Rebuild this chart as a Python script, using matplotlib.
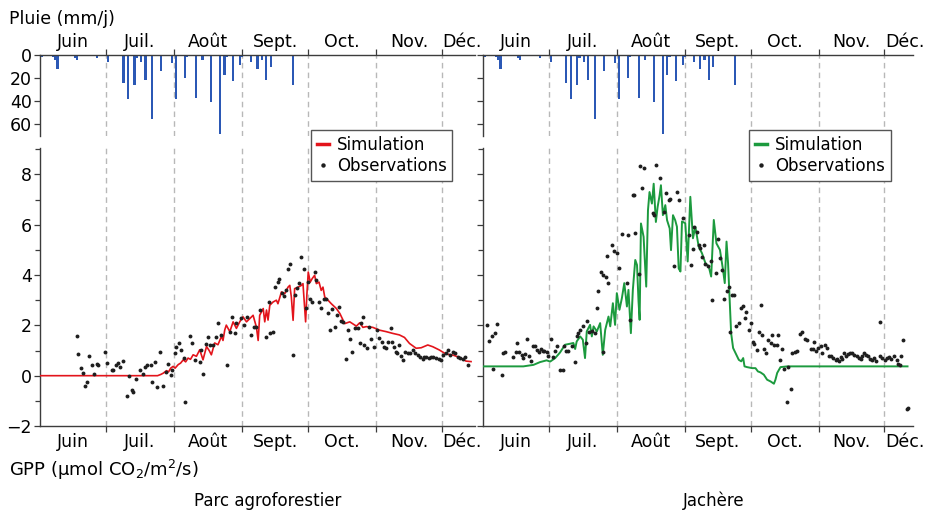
import matplotlib.pyplot as plt
import matplotlib.transforms as mtransforms
from matplotlib.lines import Line2D
from matplotlib.ticker import MultipleLocator

plt.rcParams['font.family'] = ['DejaVu Sans']

# day of year
month_starts = [152, 182, 213, 244, 274, 305, 335]
month_names = ['Juin', 'Juil.', 'Août', 'Sept.', 'Oct.', 'Nov.', 'Déc.']

# rain (mm/j)
rain_day = [153, 158, 159, 160, 168, 169, 178, 183, 190, 192, 195, 196, 198, 200,
            203, 207, 212, 214, 218, 219, 223, 226, 230, 234, 236, 237, 240, 243,
            244, 248, 251, 253, 255, 257, 267]
rain_mm = [1.5, 2, 4, 12, 3, 4, 3, 6, 24, 38, 26, 3, 6, 22,
           56, 14, 7, 38.5, 20, 1.5, 37, 4, 41, 69, 17, 1.5, 22.5, 9,
           1.5, 6, 12, 4, 22, 10, 26]

# parc agroforestier : simulation
sim_parc_day = [152, 205.5, 207, 208.1, 209.6, 210.5, 211.5, 212.6, 213.5, 214.9, 216,
                217.2, 218.3, 219.4, 220.5, 221.7, 223.2, 224.7, 226.2, 227.8, 229,
                230, 231.5, 233, 234.6, 235.3, 236.1, 236.8, 238.4, 239.9, 241.4,
                242.9, 244.4, 246, 247.5, 249, 250.5, 251.3, 252, 253.6, 254.3,
                255.1, 255.8, 256.6, 258.1, 259.6, 260.3, 261.9, 263.4, 264.9,
                265.7, 266.4, 267.2, 267.9, 269.5, 271, 271.7, 272.9, 273.5, 274.1,
                275, 275.9, 277, 277.8, 279, 280, 280.8, 281.6, 283.1, 284.6,
                286.9, 288.5, 290.7, 293, 296, 297.5, 299, 300.5, 303.5, 306.5,
                309.6, 312.6, 315.6, 317.9, 320.2, 323.2, 325.5, 328.5, 330.8,
                333.8, 336.8, 339.9, 342.9, 345.9, 348.2]
sim_parc = [0, 0, 0.05, 0.1, 0.2, 0.15, 0.3, 0.37, 0.3, 0.44, 0.5,
            0.63, 0.55, 0.70, 0.65, 0.83, 0.77, 1.03, 0.63, 1.16, 1.0,
            0.83, 1.30, 1.23, 1.56, 1.4, 1.82, 2.01, 1.75, 2.14, 1.88,
            2.14, 2.34, 2.14, 2.27, 2.40, 1.93, 1.40, 2.40, 2.67, 2.14,
            2.61, 2.21, 2.80, 2.93, 3.0, 2.86, 3.33, 3.26, 3.52,
            3.59, 3.13, 2.20, 3.46, 3.52, 3.59, 3.66, 2.14, 3.26, 4.12,
            3.72, 3.86, 3.99, 3.66, 3.72, 3.39, 3.52, 3.13, 3.0, 2.86,
            2.67, 2.47, 2.07, 2.14, 1.97, 2.1, 1.92, 1.95, 1.92, 1.81,
            1.75, 1.68, 1.62, 1.52, 1.28, 1.09, 1.11, 1.22, 1.15,
            1.02, 0.86, 0.82, 0.73, 0.58, 0.56]

# parc agroforestier : observations
obs_parc_day = [168.7, 169.4, 170.5, 171.7, 172.6, 173.5, 174.4, 175.5, 176.5, 177.8,
                178.5, 181.4, 182.6, 184.6, 185.3, 186.4, 187.3, 188.4, 189.6, 191.4,
                192.6, 193.7, 194.4, 195.5, 197.5, 198.7, 199.7, 200.8, 202.3, 203.2,
                204.3, 205.3, 206.5, 208.1, 209.3, 210.3, 211.4, 212.3, 213.4, 214.1,
                215.3, 216.4, 217.5, 218.2, 220.2, 221.2, 222.4, 224.7, 225.5, 226.2,
                227.5, 228.5, 229.6, 230.8, 232.3, 233.2, 234.6, 237.2, 238.4, 239.2,
                240.6, 241.4, 243.7, 244.7, 246.0, 248.2, 249.3, 250.5, 252.0, 255.0,
                256.2, 256.8, 258.0, 258.8, 260.3, 261.0, 262.3, 262.9, 263.8, 265.0,
                265.9, 267.2, 267.9, 269.0, 269.9, 270.9, 272.0, 272.9, 273.8, 274.7,
                275.8, 277.0, 277.8, 279.0, 280.0, 281.1, 282.3, 283.1, 284.1, 285.0,
                286.1, 287.2, 288.1, 289.1, 289.9, 291.1, 292.2, 292.9, 294.1, 295.6,
                296.7, 297.5, 298.2, 298.9, 299.7, 300.8, 301.8, 302.6, 304.1, 305.2,
                306.4, 307.6, 308.7, 309.5, 310.6, 311.7, 312.4, 313.2, 314.0, 314.7,
                315.5, 316.3, 317.3, 318.2, 319.4, 320.5, 321.7, 322.9, 324.0, 325.0,
                326.2, 327.0, 327.7, 329.0, 330.0, 331.1, 332.3, 333.5, 334.6, 335.3,
                336.8, 337.6, 338.7, 339.9, 341.1, 342.2, 343.2, 344.4, 345.6, 346.7]
obs_parc = [1.58, 0.85, 0.29, 0.12, -0.40, -0.25, 0.78, 0.42, 0.08, 0.46,
            0.41, 0.95, 0.52, 0.23, 0.23, 0.42, 0.49, 0.33, 0.58, -0.79,
            0.00, -0.57, -0.66, -0.13, 0.23, 0.05, 0.36, 0.41, 0.41, -0.26,
            0.56, -0.44, 0.95, -0.41, 0.15, 0.46, 0.03, 0.23, 0.91, 1.15,
            1.28, 1.02, 0.69, -1.03, 1.58, 1.28, 0.62, 0.56, 1.02, 0.07,
            1.26, 1.55, 1.22, 1.22, 1.55, 2.11, 1.62, 0.42, 1.75, 2.34,
            1.71, 2.08, 2.28, 2.01, 2.34, 1.62, 1.95, 1.95, 2.61, 1.52,
            2.94, 1.71, 1.75, 3.54, 3.74, 3.83, 3.30, 3.17, 3.40, 4.24,
            4.44, 0.82, 3.21, 3.47, 3.67, 4.70, 4.26, 2.68, 3.71, 3.03,
            2.91, 4.13, 3.80, 2.94, 2.68, 3.03, 3.03, 2.48, 1.81, 2.64,
            1.95, 2.41, 2.74, 2.19, 2.15, 0.65, 1.81, 1.44, 0.95, 1.88,
            1.88, 1.28, 2.08, 2.34, 1.22, 1.09, 1.95, 1.44, 1.15, 1.81,
            1.48, 1.35, 1.15, 1.09, 1.35, 1.88, 1.35, 1.15, 0.95, 0.91,
            1.22, 0.78, 0.62, 0.95, 0.91, 0.91, 1.02, 0.91, 0.82, 0.73,
            0.65, 0.73, 0.73, 0.69, 0.73, 0.73, 0.69, 0.65, 0.62, 0.82,
            0.91, 1.02, 0.82, 0.95, 0.89, 0.75, 0.69, 0.65, 0.73, 0.42]

# jachère : simulation
sim_jach_day = [152, 170.4, 175, 178, 181, 182.6, 184.9, 187.1, 189.4, 191.7, 193.2,
                194, 194.7, 196.3, 197.5, 198.5, 199.3, 200.8, 201.6, 202.4, 203.9,
                205.4, 206.6, 207.7, 209.2, 210, 211.2, 212.2, 213, 214.2, 215.3,
                216.4, 217.6, 218.3, 219.4, 220.3, 221.4, 222.2, 222.9, 223.4, 224,
                225.2, 226.4, 227.2, 227.9, 229, 229.8, 230.8, 231.6, 232.5, 233.1,
                234, 235.1, 235.9, 237.1, 237.7, 238.6, 239.6, 240.4, 241.2, 242,
                242.7, 244.2, 245.3, 246.5, 247.7, 248.8, 250.3, 251.8, 253.4, 254.9,
                256, 257.2, 258.4, 260, 261.4, 262.2, 263, 263.7, 264.5, 265.1,
                266, 267.1, 268.6, 269.7, 270.6, 271.2, 272.4, 274.7, 276.2, 277.3,
                278.5, 280, 281.5, 283.1, 284.6, 285.3, 286.1, 287.6, 290.7, 345.5]
sim_jach = [0.37, 0.37, 0.43, 0.54, 0.61, 0.56, 0.70, 0.92, 1.23, 1.27, 1.30,
            1.06, 1.36, 1.56, 1.43, 0.70, 1.76, 2.02, 1.56, 1.96, 1.76,
            2.09, 0.83, 1.82, 2.35, 1.96, 2.88, 2.02, 3.28, 2.62, 3.08,
            3.68, 2.75, 3.41, 1.69, 3.41, 4.60, 4.40, 2.94, 2.22, 6.05,
            5.52, 3.54, 6.58, 7.30, 6.84, 7.63, 6.11, 6.71, 7.17, 7.57,
            6.38, 6.78, 6.18, 5.85, 4.99, 6.38, 6.18, 5.92, 4.26, 4.14,
            6.13, 6.06, 4.54, 7.11, 5.46, 5.92, 5.13, 4.87, 4.47, 4.34,
            3.94, 6.19, 5.26, 5.00, 4.21, 3.68, 5.33, 4.47, 2.88, 1.69,
            1.10, 0.90, 0.63, 0.57, 0.70, 0.37, 0.34, 0.30, 0.30, 0.17,
            0.13, 0.04, -0.16, -0.23, -0.32, -0.16, 0.11, 0.34, 0.37, 0.37]

# jachère : observations
obs_jach_day = [154, 154.9, 155.9, 157.5, 158.5, 156.7, 160.5, 161.3, 162, 165.8,
                167, 167.6, 168.6, 169.6, 170.4, 171.1, 171.9, 173, 173.7, 174.6,
                175.7, 176.8, 177.7, 178.3, 179.2, 179.8, 181, 181.8, 182.9, 183.8,
                184.8, 185.9, 187.1, 188.3, 188.7, 189.9, 190.9, 192.5, 194, 194.7,
                195.5, 196.3, 197.8, 199, 199.3, 200.5, 201.6, 203.1, 203.9, 204.6,
                205.7, 206.9, 208.1, 209.2, 206.6, 208.4, 210.7, 211.5, 213, 213.8,
                215.3, 217.6, 218.3, 219.1, 221.4, 222.9, 220.3, 220.9, 223.7, 225.5,
                224.7, 229.4, 230, 231, 232.8, 234.3, 235.5, 236.6, 237.4, 239.2,
                240.4, 241.3, 243, 245.7, 246.8, 247.6, 248.3, 249.5, 250.3, 251.1,
                252.9, 251.8, 253.4, 254.4, 255.7, 256.6, 258, 259, 260.2, 261,
                262, 263, 264, 265.5, 266.6, 264.8, 267.5, 268.6, 269.7, 270.6,
                271.2, 272.1, 273.2, 274, 275.1, 275.7, 276.7, 277.7, 278.5, 279.2,
                280.3, 281.2, 281.8, 283.1, 283.8, 284.6, 285.8, 286.5, 287.3, 288.4,
                289.4, 290.4, 291, 292.2, 293, 294, 295.2, 296.4, 297.5, 298.6,
                299.5, 301.3, 302.5, 303.1, 304, 304.7, 305.9, 306.6, 307.7, 308.9,
                309.7, 310.8, 311.7, 312.7, 313.5, 314.2, 315, 315.8, 316.5, 317.3,
                318.4, 319.3, 320.3, 321.1, 322.3, 323.4, 324.1, 324.9, 325.7, 326.4,
                327.5, 328.4, 329.5, 330.2, 331, 332.8, 333, 334, 335.1, 336.3,
                337.1, 338.1, 339.4, 340.6, 341.2, 342.1, 342.7, 343.6, 345.1, 345.8]
obs_jach = [2.0, 1.36, 1.56, 1.69, 2.06, 0.27, 0.04, 0.90, 0.93, 0.74,
            0.94, 1.30, 0.93, 0.84, 0.70, 0.87, 1.46, 0.77, 0.57, 1.17,
            1.17, 1.03, 0.93, 1.06, 0.97, 0.97, 0.93, 0.77, 1.47, 0.73,
            0.97, 1.17, 0.24, 0.21, 1.17, 0.99, 0.97, 1.17, 0.53, 1.56,
            1.69, 1.83, 1.96, 1.30, 2.16, 1.72, 1.76, 1.69, 2.69, 3.35,
            4.12, 4.01, 3.94, 3.70, 0.93, 4.76, 5.20, 4.94, 4.87, 4.27,
            5.64, 3.68, 5.60, 2.22, 5.66, 4.05, 7.18, 7.18, 8.34, 8.24,
            7.45, 6.46, 6.39, 8.37, 7.85, 6.52, 7.25, 6.99, 7.01, 4.34,
            7.32, 6.99, 6.26, 5.60, 4.41, 5.03, 5.90, 5.73, 5.20, 5.07,
            5.20, 4.73, 4.43, 4.34, 4.54, 3.01, 4.07, 5.42, 4.67, 4.20,
            3.04, 3.35, 3.54, 3.21, 3.21, 1.72, 1.96, 2.09, 2.68, 2.78,
            2.29, 2.55, 1.80, 2.09, 1.32, 1.27, 1.03, 1.72, 2.82, 1.63,
            1.06, 0.90, 1.43, 1.30, 1.63, 1.23, 1.23, 1.63, 0.63, 1.06,
            0.26, -1.06, 0.34, -0.53, 0.90, 0.96, 1.0, 1.67, 1.72, 1.45,
            1.43, 1.06, 1.06, 1.32, 1.0, 1.10, 1.19, 0.90, 1.23, 1.10,
            0.77, 0.77, 0.70, 0.61, 0.66, 0.59, 0.74, 0.66, 0.90, 0.77,
            0.87, 0.92, 0.90, 0.83, 0.77, 0.70, 0.66, 0.77, 0.90, 0.83,
            0.77, 0.66, 0.63, 0.70, 0.57, 2.15, 0.77, 0.70, 0.63, 0.70,
            0.74, 0.66, 0.77, 0.61, 0.48, 0.44, 0.77, 1.43, -1.32, -1.28]

RAIN_COLOR = '#2b58b5'
AX_COLOR = '#3c3c3c'
GRID_COLOR = '#b8b8b8'
FS = 12.5

fig = plt.figure(figsize=(9.3, 5.13), dpi=100)
W, H = 930, 513


def px_axes(x0, x1, ytop, ybot):
    return fig.add_axes([x0 / W, 1 - ybot / H, (x1 - x0) / W, (ybot - ytop) / H])


def style_common(ax):
    for s in ax.spines.values():
        s.set_color(AX_COLOR)
        s.set_linewidth(1.0)
    ax.tick_params(which='both', direction='out', color=AX_COLOR, width=0.9,
                   labelsize=FS, pad=2)
    ax.tick_params(which='major', length=4)
    ax.tick_params(which='minor', length=3.5)
    for m in month_starts[1:]:
        ax.axvline(m, color=GRID_COLOR, lw=1.0, ls=(0, (4, 3)), zorder=0.5)


def month_labels(ax, y):
    tr = mtransforms.blended_transform_factory(ax.transData, ax.transAxes)
    ends = month_starts[1:] + [None]
    for start, end, name in zip(month_starts, ends, month_names):
        if end is None:
            ax.text(start + 0.3, y, name, transform=tr, ha='left', va='center',
                    fontsize=FS, clip_on=False)
        else:
            ax.text((start + end) / 2, y, name, transform=tr, ha='center',
                    va='center', fontsize=FS, clip_on=False)


def panel(x0, x1, xmax, sim_day, sim, obs_day, obs, color, lw, show_labels):
    # rain
    ar = px_axes(x0, x1, 55, 136)
    ar.bar(rain_day, rain_mm, width=1.0, color=RAIN_COLOR, zorder=2)
    ar.set_xlim(152, xmax)
    ar.set_ylim(70.4, 0)
    style_common(ar)
    ar.spines['bottom'].set_visible(False)
    ar.spines['right'].set_visible(False)
    ar.xaxis.tick_top()
    ar.set_xticks(month_starts[1:])
    ar.set_xticklabels([])
    ar.set_yticks([0, 20, 40, 60])
    if not show_labels:
        ar.set_yticklabels([])
    month_labels(ar, 1 + 13 / 81)

    # GPP
    ag = px_axes(x0, x1, 148, 426)
    ag.set_zorder(3)
    ag.patch.set_visible(False)
    ag.plot(sim_day, sim, color=color, lw=lw, zorder=3)
    ag.plot(obs_day, obs, 'o', color='#1e1e1e', ms=2.8, mew=0, zorder=4)
    ag.set_xlim(152, xmax)
    ag.set_ylim(-2, 9.05)
    style_common(ag)
    ag.spines['top'].set_visible(False)
    ag.spines['right'].set_visible(False)
    ag.set_xticks(month_starts[1:])
    ag.set_xticklabels([])
    ag.set_yticks([-2, 0, 2, 4, 6, 8])
    ag.yaxis.set_minor_locator(MultipleLocator(1))
    if not show_labels:
        ag.set_yticklabels([])
    month_labels(ag, -16 / 278)

    handles = [Line2D([], [], color=color, lw=2.5),
               Line2D([], [], ls='none', marker='o', color='#1e1e1e', ms=3.2, mew=0)]
    leg = ag.legend(handles, ['Simulation', 'Observations'], loc='upper right',
                    bbox_to_anchor=(0.948, 1.065), borderaxespad=0, fontsize=12,
                    fancybox=False, framealpha=1, edgecolor='#555555',
                    handlelength=0.75, handletextpad=0.45, borderpad=0.35,
                    labelspacing=0.2)
    leg.get_frame().set_linewidth(1.0)
    leg.set_zorder(10)
    return ar, ag


panel(40, 475, 350, sim_parc_day, sim_parc, obs_parc_day, obs_parc,
      '#e3141b', 1.2, True)
panel(483, 913, 348, sim_jach_day, sim_jach, obs_jach_day, obs_jach,
      '#1c9a3e', 1.4, False)

fig.text(9 / W, 1 - 19 / H, 'Pluie (mm/j)', fontsize=FS, ha='left', va='center')
fig.text(9 / W, 1 - 470 / H,
         r'GPP (µmol CO$_\mathregular{2}$/m$^\mathregular{2}$/s)',
         fontsize=13, ha='left', va='center')
fig.text(268 / W, 1 - 501 / H, 'Parc agroforestier', fontsize=12,
         ha='center', va='center')
fig.text(714 / W, 1 - 501 / H, 'Jachère', fontsize=12, ha='center', va='center')

fig.savefig('out.png', dpi=100)
